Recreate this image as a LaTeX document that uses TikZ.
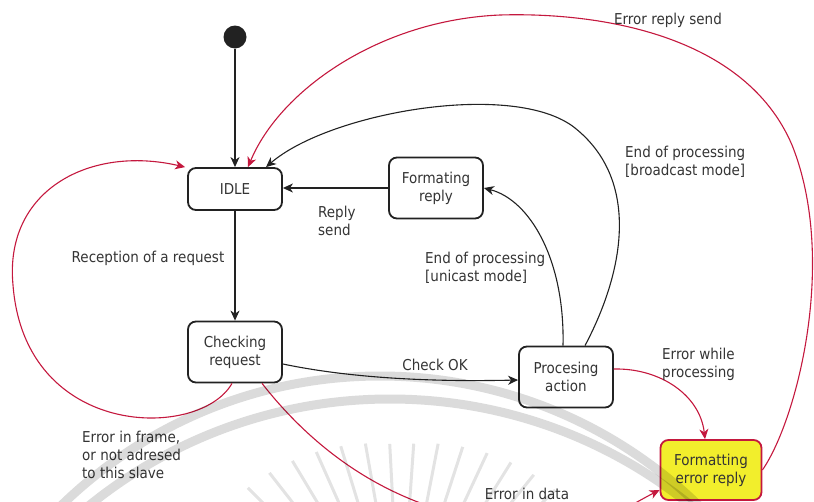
\documentclass[tikz,border=0pt]{standalone}
\usepackage{fontspec}
\setmainfont{DejaVu Sans Condensed}
\usetikzlibrary{arrows.meta,calc}
\definecolor{errred}{RGB}{196,24,62}
\definecolor{warnyellow}{RGB}{242,238,44}
\definecolor{ink}{RGB}{34,34,34}
\definecolor{txt}{RGB}{52,52,52}
\begin{document}
\begin{tikzpicture}[x=1pt,y=-1pt,
  every node/.style={font=\fontsize{15}{18}\selectfont, text=txt},
  state/.style={draw=ink, line width=1.8pt, rounded corners=8pt, fill=white,
    minimum width=94pt, minimum height=61pt, align=center, inner sep=2pt},
  errstate/.style={state, draw=errred, fill=warnyellow, minimum width=101pt, minimum height=60pt},
  startdot/.style={circle, fill=ink, draw=none, minimum size=23pt, inner sep=0pt},
  flow/.style={draw=ink, line width=1.1pt, -{Stealth[length=10pt,width=9pt,inset=3pt]}},
  errflow/.style={flow, draw=errred, -{Stealth[length=10pt,width=9pt,inset=3pt,color=errred]}},
  lbl/.style={align=left, anchor=west, inner sep=0pt},
  seal/.style={draw=black, opacity=0.14, line cap=butt}
]
\useasboundingbox (0,0) rectangle (814,501);
\clip (0,0) rectangle (814,501);

% states
\node[startdot] (init) at (235,37) {};
\node[state, minimum height=42pt] (idle) at (235,189) {IDLE};
\node[state] (fmt) at (436,188) {Formating\\reply};
\node[state] (chk) at (235,352) {Checking\\request};
\node[state] (proc) at (566,377) {Procesing\\action};
\node[errstate] (err) at (711,470) {Formatting\\error reply};

% normal transitions
\draw[flow] (init) -- (idle);
\draw[flow] (idle) -- (chk);
\draw[flow] (fmt.west) -- (idle.east|-fmt.west);
\draw[flow] ($(chk.east)+(0,12)$) .. controls (350,378) and (430,382) .. ($(proc.west)+(0,3)$);
\draw[flow] ($(proc.north)+(-3,0)$) .. controls (565,260) and (530,200) .. (fmt.east);
\draw[flow] ($(proc.north)+(19,0)$) .. controls (625,270) and (640,180) .. (575,128)
  .. controls (515,80) and (330,112) .. ($(idle.north)+(31,0)$);

% error transitions
\draw[errflow] ($(chk.south)+(-3,0)$) .. controls (200,440) and (25,440) .. (13,285)
  .. controls (4,190) and (90,145) .. ($(idle.north west)+(-2,0)$);
\draw[errflow] ($(chk.south)+(27,0)$) .. controls (330,470) and (420,520) .. (530,525)
  .. controls (600,528) and (630,505) .. ($(err.west)+(0,20)$);
\draw[errflow] ($(proc.east)+(0,-8)$) .. controls (660,368) and (700,395) .. ($(err.north)+(-6,0)$);
\draw[errflow] (err.east) .. controls (797,420) and (838,260) .. (792,145)
  .. controls (745,35) and (600,12) .. (500,15)
  .. controls (380,20) and (280,90) .. ($(idle.north)+(13,0)$);

% transition labels
\node (lrecv) at (148,258) {Reception of a request};
\node[lbl] (lreply) at (318,221) {Reply\\send};
\node[lbl] (luni) at (425,268) {End of processing\\{[}unicast mode{]}};
\node[lbl] (lbroad) at (625,162) {End of processing\\{[}broadcast mode{]}};
\node (lok) at (435,365) {Check OK};
\node[lbl] (lwhile) at (662,364) {Error while\\processing};
\node[lbl] (lframe) at (82,455) {Error in frame,\\or not adresed\\to this slave};
\node (lsend) at (668,20) {Error reply send};
\node[anchor=base, inner sep=0pt] (ldata) at (527,499) {Error in data};

% faint seal in the background
\draw[seal, line width=9pt] (380,833) circle[radius=457pt];
\draw[seal, line width=9pt] (390,877) circle[radius=478pt];
\foreach \a in {44,51,...,142} {
  \pgfmathsetmacro{\rl}{100+0.45*abs(\a-90)}
  \draw[seal, opacity=0.11, line width=3pt] (400,640) ++(\a:95pt) -- ++(\a:\rl pt);
}
\end{tikzpicture}
\end{document}
